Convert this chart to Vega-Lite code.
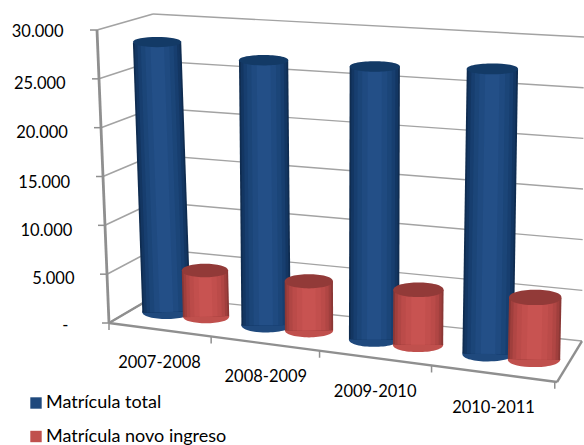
{
"$schema":"https://vega.github.io/schema/vega-lite/v6.json",
"width":584,"height":445,"padding":0,"autosize":"none","background":"white",
"config":{"view":{"stroke":null},"font":"Lato","axis":{"labelFont":"Lato","labelFontSize":16.5,"labelColor":"#000000"}},
"datasets":{
"bars":[
{"period":"2007-2008","series":"Matrícula total","value":28050},
{"period":"2008-2009","series":"Matrícula total","value":27010},
{"period":"2009-2010","series":"Matrícula total","value":27260},
{"period":"2010-2011","series":"Matrícula total","value":27900},
{"period":"2007-2008","series":"Matrícula novo ingreso","value":4750},
{"period":"2008-2009","series":"Matrícula novo ingreso","value":4960},
{"period":"2009-2010","series":"Matrícula novo ingreso","value":5450},
{"period":"2010-2011","series":"Matrícula novo ingreso","value":6020}
],
"levels":[{"level":0},{"level":5000},{"level":10000},{"level":15000},{"level":20000},{"level":25000},{"level":30000}],
"boundaries":[{"after":"start"},{"after":"2007-2008"},{"after":"2008-2009"},{"after":"2009-2010"},{"after":"2010-2011"}]
},
"resolve":{"scale":{"x":"independent"},"axis":{"y":"independent"}},
"layer":[
{
"data":{"name":"bars"},
"mark":{"type":"point","opacity":0},
"encoding":{
"x":{"field":"period","type":"nominal","sort":null,"title":null,
"scale":{"type":"point","range":[160,494],"padding":0},
"axis":{"orient":"bottom","offset":-85,"labelAngle":0,"domain":false,"ticks":false,"labelBaseline":"middle","labelFontSize":16.5,
"labelPadding":{"expr":"[2,16,31,47][indexof(['2007-2008','2008-2009','2009-2010','2010-2011'],datum.value)]"},
"labelOffset":{"expr":"[-1,-6,-8,-1][indexof(['2007-2008','2008-2009','2009-2010','2010-2011'],datum.value)]"}}},
"y":{"field":"value","type":"quantitative","title":null,
"scale":{"domain":[-12203,33051]},
"axis":{"orient":"left","offset":-70,"values":[0,5000,10000,15000,20000,25000,30000],"domain":false,"ticks":false,"grid":false,"labelFontSize":16.5,
"labelExpr":"datum.value==0?'-':replace(format(datum.value,','),',','.')",
"labelPadding":{"expr":"datum.value==0?2:(7-(30000-datum.value)/5000*2.2)"},
"labelOffset":{"expr":"[0,3,4,5,4,4,1][datum.value/5000]"}}}
}
},
{
"data":{"name":"levels"},
"transform":[
{"calculate":"datum.level/30000","as":"v"},
{"calculate":"109-12*datum.v","as":"lx"},
{"calculate":"(325-(323-293*datum.v))*101.69","as":"ly"},
{"calculate":"155-2*datum.v","as":"cx"},
{"calculate":"(325-(296-282*datum.v))*101.69","as":"cy"},
{"calculate":"582+2*datum.v","as":"ex"},
{"calculate":"(325-(341-304*datum.v))*101.69","as":"ey"},
{"calculate":"datum.lx-7","as":"tx"},
{"calculate":"557","as":"fx"},
{"calculate":"(325-382)*101.69","as":"fy"},
{"calculate":"97","as":"topx"},
{"calculate":"(325-30)*101.69","as":"topy"}
],
"layer":[
{"mark":{"type":"rule","color":"#a3a3a3","strokeWidth":1.4},
"encoding":{"x":{"field":"cx","type":"quantitative","scale":{"domain":[0,584]},"axis":null},"x2":{"field":"ex"},"y":{"field":"cy","type":"quantitative","scale":{"domain":[-12203,33051]},"axis":null},"y2":{"field":"ey"}}},
{"mark":{"type":"rule","color":"#a3a3a3","strokeWidth":1.6},
"encoding":{"x":{"field":"lx","type":"quantitative","scale":{"domain":[0,584]},"axis":null},"x2":{"field":"cx"},"y":{"field":"ly","type":"quantitative","scale":{"domain":[-12203,33051]},"axis":null},"y2":{"field":"cy"}}},
{"mark":{"type":"rule","color":"#8f8f8f","strokeWidth":1.5},
"encoding":{"x":{"field":"tx","type":"quantitative","scale":{"domain":[0,584]},"axis":null},"x2":{"field":"lx"},"y":{"field":"ly","type":"quantitative","scale":{"domain":[-12203,33051]},"axis":null},"y2":{"field":"ly"}}},
{"transform":[{"filter":"datum.level==0"}],"mark":{"type":"rule","color":"#8f8f8f","strokeWidth":2.8},
"encoding":{"x":{"field":"lx","type":"quantitative","scale":{"domain":[0,584]},"axis":null},"x2":{"field":"topx"},"y":{"field":"ly","type":"quantitative","scale":{"domain":[-12203,33051]},"axis":null},"y2":{"field":"topy"}}},
{"transform":[{"filter":"datum.level==0"}],"mark":{"type":"rule","color":"#8f8f8f","strokeWidth":2.4},
"encoding":{"x":{"field":"lx","type":"quantitative","scale":{"domain":[0,584]},"axis":null},"x2":{"field":"fx"},"y":{"field":"ly","type":"quantitative","scale":{"domain":[-12203,33051]},"axis":null},"y2":{"field":"fy"}}},
{"transform":[{"filter":"datum.level==0"}],"mark":{"type":"rule","color":"#8f8f8f","strokeWidth":2.4},
"encoding":{"x":{"field":"fx","type":"quantitative","scale":{"domain":[0,584]},"axis":null},"x2":{"field":"ex"},"y":{"field":"fy","type":"quantitative","scale":{"domain":[-12203,33051]},"axis":null},"y2":{"field":"ey"}}},
{"transform":[{"filter":"datum.level==0"}],"mark":{"type":"rule","color":"#8f8f8f","strokeWidth":2.4},
"encoding":{"x":{"field":"lx","type":"quantitative","scale":{"domain":[0,584]},"axis":null},"x2":{"field":"cx"},"y":{"field":"ly","type":"quantitative","scale":{"domain":[-12203,33051]},"axis":null},"y2":{"field":"cy"}}}
]
},
{
"data":{"name":"boundaries"},
"transform":[
{"calculate":"[0,0.228,0.47,0.72,0.995][indexof(['start','2007-2008','2008-2009','2009-2010','2010-2011'],datum.after)]","as":"u"},
{"calculate":"109+448*datum.u","as":"bx"},
{"calculate":"(325-(323+59*datum.u))*101.69","as":"by"},
{"calculate":"datum.by-7*101.69","as":"by2"}
],
"mark":{"type":"rule","color":"#8f8f8f","strokeWidth":1.5},
"encoding":{"x":{"field":"bx","type":"quantitative","scale":{"domain":[0,584]},"axis":null},"y":{"field":"by","type":"quantitative","scale":{"domain":[-12203,33051]},"axis":null},"y2":{"field":"by2"}}
},
{
"data":{"name":"bars"},
"transform":[
{"calculate":"indexof(['2007-2008','2008-2009','2009-2010','2010-2011'],datum.period)","as":"i"},
{"calculate":"datum.series=='Matrícula total'?0:1","as":"s"},
{"calculate":"[0.55,0.505,0.47,0.45][datum.i]","as":"d"},
{"calculate":"[[0.0737,0.3059,0.5556,0.817],[0.1644,0.4042,0.656,0.9219]][datum.s][datum.i]","as":"u"},
{"calculate":"datum.value/30000","as":"v"},
{"calculate":"(1-datum.d)*(109+448*datum.u)+datum.d*(155+427*datum.u)","as":"x0"},
{"calculate":"(1-datum.d)*(97+472*datum.u)+datum.d*(153+431*datum.u)-6*max(0,1-datum.u/0.3)","as":"x1"},
{"calculate":"(1-datum.d)*(323+59*datum.u)+datum.d*(296+45*datum.u)","as":"y0"},
{"calculate":"(1-datum.d)*(30+36*datum.u)+datum.d*(14+23*datum.u)","as":"y1"},
{"calculate":"datum.x0","as":"sxBase"},
{"calculate":"datum.x0+(datum.x1-datum.x0)*datum.v","as":"sxTop"},
{"calculate":"(325-datum.y0)*101.69","as":"syBase"},
{"calculate":"(325-(datum.y0+(datum.y1-datum.y0)*datum.v))*101.69","as":"syTop"},
{"calculate":"datum.s==0?48+4*datum.u:45+8*datum.u","as":"w"},
{"calculate":"datum.w*datum.w","as":"w2"},
{"calculate":"datum.w*0.93","as":"w93"},
{"calculate":"datum.w*0.82","as":"w82"},
{"calculate":"datum.w*0.68","as":"w68"},
{"calculate":"datum.w*0.5","as":"w50"},
{"calculate":"datum.w*0.28","as":"w28"}
],
"encoding":{
"x":{"field":"sxBase","type":"quantitative","scale":{"domain":[0,584]},"axis":null},
"y":{"field":"syBase","type":"quantitative","scale":{"domain":[-12203,33051]},"axis":null}
},
"layer":[
{"transform":[{"filter":"datum.s==0"}],
"encoding":{"x2":{"field":"sxTop"},"y2":{"field":"syTop"}},
"layer":[
{"mark":{"type":"point","filled":true,"opacity":1,"shape":"M-1,0C-1,-0.39,1,-0.39,1,0C1,0.39,-1,0.39,-1,0Z"},
"encoding":{"x2":null,"y2":null,"size":{"field":"w2","type":"quantitative","scale":null},
"color":{"field":"series","type":"nominal","scale":{"domain":["Matrícula total","Matrícula novo ingreso"],"range":["#1f497d","#c0504d"]},
"legend":{"orient":"none","legendX":27,"legendY":394,"title":null,"symbolType":"square","symbolSize":130,"labelFont":"Lato","labelFontSize":18,"labelLimit":400,"labelColor":"#000000","rowPadding":15.5,"labelOffset":1,"symbolStrokeWidth":0}}}},
{"mark":{"type":"rule","color":"#0f2c50"},"encoding":{"size":{"field":"w","type":"quantitative","scale":null}}},
{"mark":{"type":"rule","color":"#133662"},"encoding":{"size":{"field":"w93","type":"quantitative","scale":null}}},
{"mark":{"type":"rule","color":"#173e6f"},"encoding":{"size":{"field":"w82","type":"quantitative","scale":null}}},
{"mark":{"type":"rule","color":"#1b4578"},"encoding":{"size":{"field":"w68","type":"quantitative","scale":null}}},
{"mark":{"type":"rule","color":"#1f4a80"},"encoding":{"size":{"field":"w50","type":"quantitative","scale":null}}},
{"mark":{"type":"rule","color":"#234f87"},"encoding":{"size":{"field":"w28","type":"quantitative","scale":null}}},
{"mark":{"type":"point","filled":true,"opacity":1,"color":"#133a66","shape":"M-1,0C-1,-0.28,1,-0.28,1,0C1,0.28,-1,0.28,-1,0Z"},
"encoding":{"x":{"field":"sxTop","type":"quantitative","scale":{"domain":[0,584]},"axis":null},"y":{"field":"syTop","type":"quantitative","scale":{"domain":[-12203,33051]},"axis":null},"x2":null,"y2":null,"size":{"field":"w2","type":"quantitative","scale":null}}}
]},
{"transform":[{"filter":"datum.s==1"}],
"encoding":{"x2":{"field":"sxTop"},"y2":{"field":"syTop"}},
"layer":[
{"mark":{"type":"point","filled":true,"opacity":1,"shape":"M-1,0C-1,-0.39,1,-0.39,1,0C1,0.39,-1,0.39,-1,0Z"},
"encoding":{"x2":null,"y2":null,"size":{"field":"w2","type":"quantitative","scale":null},
"color":{"field":"series","type":"nominal","scale":{"domain":["Matrícula total","Matrícula novo ingreso"],"range":["#1f497d","#c0504d"]},"legend":{"orient":"none","legendX":27,"legendY":394,"title":null,"symbolType":"square","symbolSize":130,"labelFont":"Lato","labelFontSize":18,"labelLimit":400,"labelColor":"#000000","rowPadding":15.5,"labelOffset":1,"symbolStrokeWidth":0}}}},
{"mark":{"type":"rule","color":"#8a3735"},"encoding":{"size":{"field":"w","type":"quantitative","scale":null}}},
{"mark":{"type":"rule","color":"#a03f3d"},"encoding":{"size":{"field":"w93","type":"quantitative","scale":null}}},
{"mark":{"type":"rule","color":"#b04644"},"encoding":{"size":{"field":"w82","type":"quantitative","scale":null}}},
{"mark":{"type":"rule","color":"#bb4b49"},"encoding":{"size":{"field":"w68","type":"quantitative","scale":null}}},
{"mark":{"type":"rule","color":"#c24f4d"},"encoding":{"size":{"field":"w50","type":"quantitative","scale":null}}},
{"mark":{"type":"rule","color":"#c85351"},"encoding":{"size":{"field":"w28","type":"quantitative","scale":null}}},
{"mark":{"type":"point","filled":true,"opacity":1,"color":"#923a38","shape":"M-1,0C-1,-0.39,1,-0.39,1,0C1,0.39,-1,0.39,-1,0Z"},
"encoding":{"x":{"field":"sxTop","type":"quantitative","scale":{"domain":[0,584]},"axis":null},"y":{"field":"syTop","type":"quantitative","scale":{"domain":[-12203,33051]},"axis":null},"x2":null,"y2":null,"size":{"field":"w2","type":"quantitative","scale":null}}}
]}
]
}
]
}
